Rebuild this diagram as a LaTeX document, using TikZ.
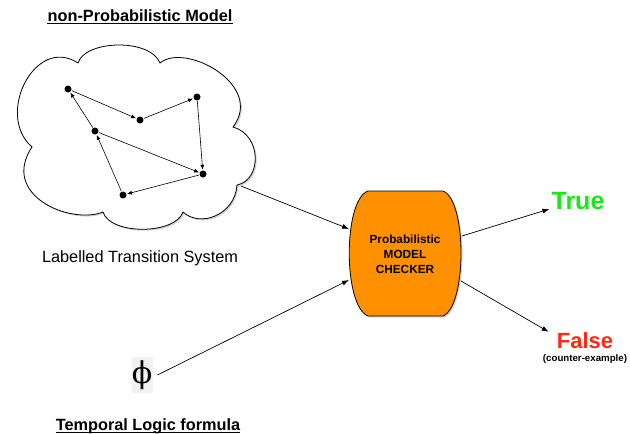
\documentclass[tikz,border=0pt]{standalone}
\usepackage{fontspec}
\setmainfont{Liberation Sans}
\newfontfamily\phifont{DejaVu Serif}
\usetikzlibrary{arrows.meta,shadows}
\definecolor{chkorange}{RGB}{255,145,0}
\definecolor{truegreen}{RGB}{20,235,20}
\definecolor{falsered}{RGB}{255,40,20}
\begin{document}
\begin{tikzpicture}[x=1pt,y=-1pt,
  dot/.style={circle,fill=black,inner sep=0pt,minimum size=7pt},
  garr/.style={-{Latex[length=5pt,width=4pt]},line width=0.6pt,shorten >=0.5pt,shorten <=0.5pt},
  arr/.style={-{Latex[length=7pt,width=5pt]},line width=0.7pt},
  lbl/.style={inner sep=0pt,font=\fontsize{16.3}{18}\selectfont},
  ttl/.style={inner sep=0pt,font=\fontsize{16.3}{18}\selectfont\bfseries},
  shad/.style={drop shadow={opacity=0.35,shadow xshift=1.5pt,shadow yshift=-1.5pt}}]
\useasboundingbox (0,0) rectangle (630,434);

% cloud
\path[draw=black,line width=0.8pt,fill=white,shad]
  (78,63) .. controls (85,40) and (150,38) .. (160,63)
  .. controls (185,42) and (265,85) .. (233,127)
  .. controls (262,135) and (262,180) .. (237,185)
  .. controls (235,215) and (200,228) .. (183,212)
  .. controls (175,235) and (110,235) .. (103,212)
  .. controls (70,225) and (0,195) .. (32,147)
  .. controls (-5,115) and (35,35) .. (78,63) -- cycle;

% graph
\node[dot] (n1) at (68,89) {};
\node[dot] (n2) at (140,120) {};
\node[dot] (n3) at (197,97) {};
\node[dot] (n4) at (95,131) {};
\node[dot] (n5) at (203,174) {};
\node[dot] (n6) at (123,195) {};
\draw[garr] (n1) -- (n2);
\draw[garr] (n2) -- (n3);
\draw[garr] (n3) -- (n5);
\draw[garr] (n4) -- (n5);
\draw[garr] (n5) -- (n6);
\draw[garr] (n6) -- (n4);
\draw[garr] (n4) -- (n1);

% checker
\path[draw=black,line width=0.8pt,fill=chkorange,shad]
  (368,191) -- (443,191) .. controls (467,200) and (467,306) .. (443,316)
  -- (368,316) .. controls (343,306) and (343,200) .. (368,191) -- cycle;
\node[align=center,inner sep=0pt,font=\fontsize{11.8}{15}\selectfont\bfseries] (checker) at (405,254) {Probabilistic\\MODEL\\CHECKER};

\coordinate (cloudout) at (241,186);
\coordinate (chkin1) at (349,229);
\coordinate (chkin2) at (349,280);
\coordinate (chkout1) at (462,236);
\coordinate (chkout2) at (461,281);

% labels
\node[ttl,anchor=base] (title) at (140,21) {non-Probabilistic Model};
\draw[line width=1.1pt] ([yshift=-2.3pt]title.base west) -- ([yshift=-2.3pt]title.base east);
\node[lbl,anchor=base] (lts) at (140,262) {Labelled Transition System};
\node[ttl,anchor=base] (tlf) at (148,430) {Temporal Logic formula};
\draw[line width=1.1pt] ([yshift=-2.3pt]tlf.base west) -- ([yshift=-2.3pt]tlf.base east);

\fill[black!5] (132,357) rectangle (153,393);
\node[inner sep=0pt,font=\fontsize{30}{32}\phifont] (phi) at (142,375) {ϕ};

\node[inner sep=0pt,anchor=base,text=truegreen,font=\fontsize{25}{28}\selectfont\bfseries] (true) at (578,209) {True};
\node[inner sep=0pt,anchor=base,text=falsered,font=\fontsize{22}{25}\selectfont\bfseries] (false) at (585,348) {False};
\node[inner sep=0pt,font=\fontsize{9.7}{11}\selectfont\bfseries] (cex) at (585,359) {(counter-example)};

% connectors
\draw[arr] (cloudout) -- (chkin1);
\draw[arr] ([xshift=5pt]phi.east) -- (chkin2);
\draw[arr] (chkout1) -- ([xshift=-2pt]true.base west);
\draw[arr] (chkout2) -- ([xshift=-8pt]false.north west);
\end{tikzpicture}
\end{document}
